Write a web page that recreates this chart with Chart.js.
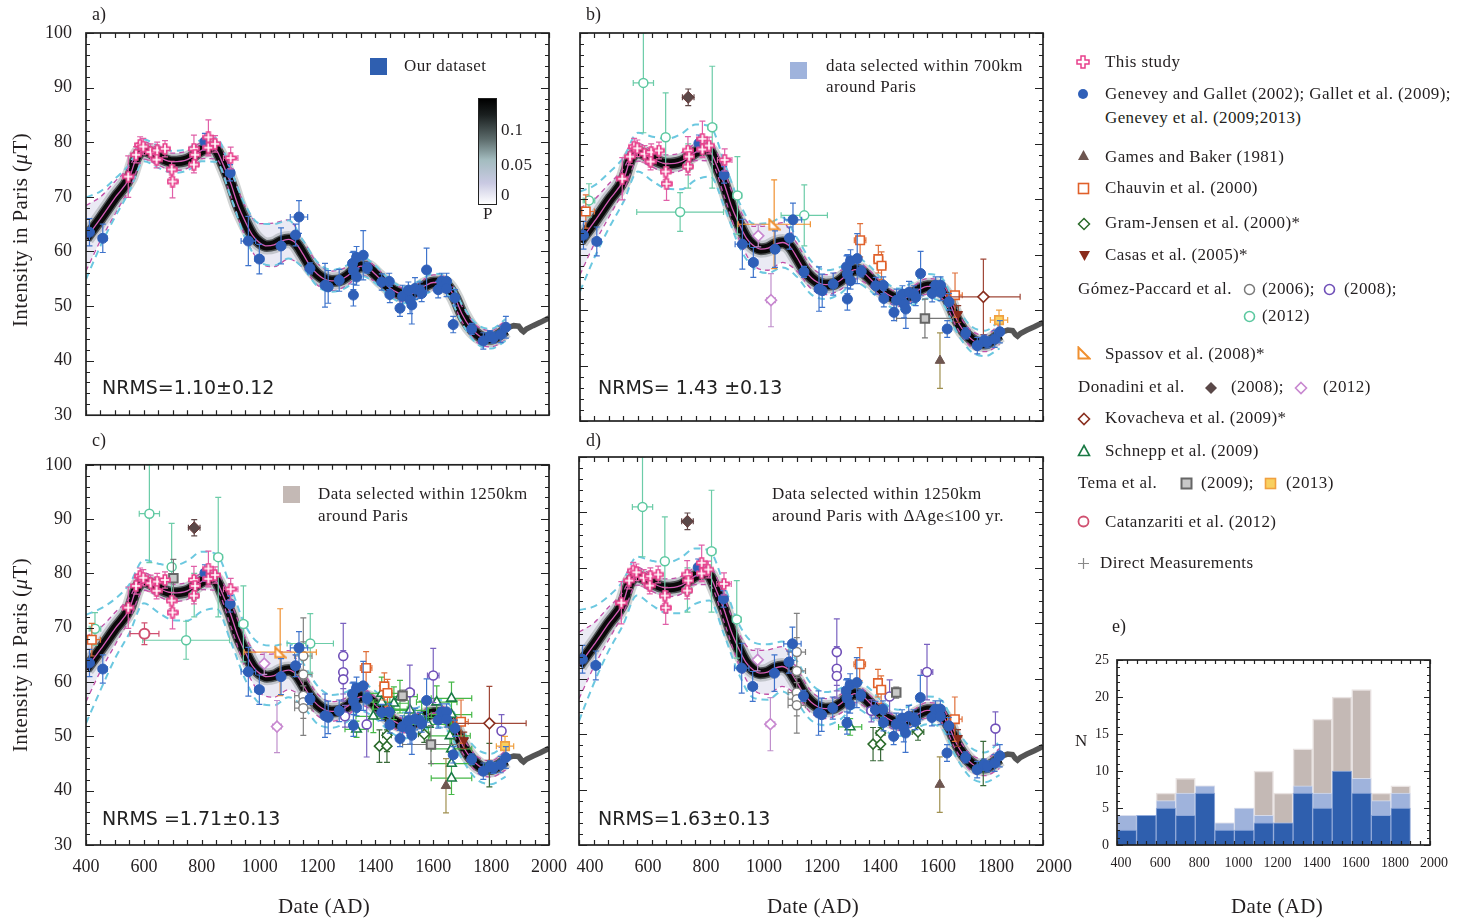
<!DOCTYPE html>
<html><head><meta charset="utf-8">
<script src="https://cdn.jsdelivr.net/npm/chart.js@4.4.1/dist/chart.umd.min.js"></script>
<style>
body{margin:0;width:1471px;height:924px;background:#fff;position:relative;overflow:hidden;font-family:"Liberation Serif",serif;color:#231f20}
canvas{position:absolute}
.t{position:absolute;white-space:nowrap;font-size:17px;line-height:18px;letter-spacing:0.4px}
.pl{position:absolute;font-size:18px;line-height:20px}
.nr{position:absolute;font-family:"DejaVu Sans",sans-serif;font-size:19px;line-height:22px;white-space:nowrap;color:#222}
.yl{position:absolute;font-size:21px;letter-spacing:0.4px;white-space:nowrap;transform:translate(-50%,-50%) rotate(-90deg)}
.xl{position:absolute;font-size:21px;letter-spacing:0.3px;white-space:nowrap;transform:translate(-50%,-50%)}
.sym{position:absolute}
</style></head><body>
<canvas id="ca" width="580" height="440" style="left:0;top:0"></canvas>
<canvas id="cb" width="540" height="440" style="left:540px;top:0"></canvas>
<canvas id="cc" width="580" height="484" style="left:0;top:440px"></canvas>
<canvas id="cd" width="540" height="484" style="left:540px;top:440px"></canvas>
<canvas id="ce" width="420" height="294" style="left:1060px;top:630px"></canvas>

<div class="pl" style="left:92px;top:4px">a)</div>
<div class="pl" style="left:586px;top:4px">b)</div>
<div class="pl" style="left:92px;top:430px">c)</div>
<div class="pl" style="left:586px;top:430px">d)</div>
<div class="pl" style="left:1112px;top:616px">e)</div>

<div class="yl" style="left:20px;top:230px">Intensity in Paris (<i>μ</i>T)</div>
<div class="yl" style="left:20px;top:655px">Intensity in Paris (<i>μ</i>T)</div>
<div class="xl" style="left:324px;top:906px">Date (AD)</div>
<div class="xl" style="left:813px;top:906px">Date (AD)</div>
<div class="xl" style="left:1277px;top:906px">Date (AD)</div>
<div class="t" style="left:1075px;top:732px">N</div>

<!-- in-panel legends -->
<div class="sym" style="left:370px;top:58px;width:17px;height:17px;background:#2f5fb0"></div>
<div class="t" style="left:404px;top:57px">Our dataset</div>
<div class="sym" style="left:790px;top:62px;width:17px;height:17px;background:#9fb3dc"></div>
<div class="t" style="left:826px;top:57px">data selected within 700km</div>
<div class="t" style="left:826px;top:78px">around Paris</div>
<div class="sym" style="left:283px;top:486px;width:17px;height:17px;background:#c4b9b5"></div>
<div class="t" style="left:318px;top:485px">Data selected within 1250km</div>
<div class="t" style="left:318px;top:507px">around Paris</div>
<div class="t" style="left:772px;top:485px">Data selected within 1250km</div>
<div class="t" style="left:772px;top:507px">around Paris with ΔAge≤100 yr.</div>

<!-- colour bar -->
<div class="sym" style="left:478px;top:98px;width:17px;height:105px;border:1.5px solid #222;background:linear-gradient(to bottom,#000 0%,#1a1f1f 15%,#5b6a6a 38%,#a3bcbf 58%,#c9c9e2 80%,#fff 100%)"></div>
<div class="t" style="left:501px;top:121px">0.1</div>
<div class="t" style="left:501px;top:156px">0.05</div>
<div class="t" style="left:501px;top:186px">0</div>
<div class="t" style="left:483px;top:205px">P</div>

<div class="nr" style="left:102px;top:376px">NRMS=1.10±0.12</div>
<div class="nr" style="left:598px;top:376px">NRMS= 1.43 ±0.13</div>
<div class="nr" style="left:102px;top:807px">NRMS =1.71±0.13</div>
<div class="nr" style="left:598px;top:807px">NRMS=1.63±0.13</div>

<!-- right-hand legend -->
<svg class="sym" style="left:1076px;top:55px" width="14" height="14"><path d="M5 1h4v4h4v4h-4v4h-4v-4h-4v-4h4z" fill="#fff" stroke="#e8408c" stroke-width="1.5"/></svg>
<div class="t" style="left:1105px;top:53px">This study</div>
<svg class="sym" style="left:1077px;top:88px" width="12" height="12"><circle cx="6" cy="6" r="5" fill="#2f5fb8"/></svg>
<div class="t" style="left:1105px;top:85px">Genevey and Gallet (2002); Gallet et al. (2009);</div>
<div class="t" style="left:1105px;top:109px">Genevey et al. (2009;2013)</div>
<svg class="sym" style="left:1077px;top:149px" width="13" height="12"><path d="M6.5 1L12 11H1z" fill="#6e5650"/></svg>
<div class="t" style="left:1105px;top:148px">Games and Baker (1981)</div>
<svg class="sym" style="left:1077px;top:182px" width="13" height="13"><rect x="1.5" y="1.5" width="10" height="10" fill="#fff" stroke="#e0602a" stroke-width="1.6"/></svg>
<div class="t" style="left:1105px;top:179px">Chauvin et al. (2000)</div>
<svg class="sym" style="left:1077px;top:217px" width="14" height="14"><path d="M7 1.5L12.5 7L7 12.5L1.5 7z" fill="#fff" stroke="#2a6a2a" stroke-width="1.5"/></svg>
<div class="t" style="left:1105px;top:214px">Gram-Jensen et al. (2000)*</div>
<svg class="sym" style="left:1078px;top:250px" width="13" height="12"><path d="M1 1H12L6.5 11z" fill="#8a2a1a"/></svg>
<div class="t" style="left:1105px;top:246px">Casas et al. (2005)*</div>
<div class="t" style="left:1078px;top:280px">Gómez-Paccard et al.</div>
<svg class="sym" style="left:1243px;top:283px" width="13" height="13"><circle cx="6.5" cy="6.5" r="5" fill="#fff" stroke="#7a7a7a" stroke-width="1.5"/></svg>
<div class="t" style="left:1262px;top:280px">(2006);</div>
<svg class="sym" style="left:1323px;top:283px" width="13" height="13"><circle cx="6.5" cy="6.5" r="5" fill="#fff" stroke="#7050b8" stroke-width="1.6"/></svg>
<div class="t" style="left:1344px;top:280px">(2008);</div>
<svg class="sym" style="left:1243px;top:310px" width="13" height="13"><circle cx="6.5" cy="6.5" r="5" fill="#fff" stroke="#5cc8a0" stroke-width="1.6"/></svg>
<div class="t" style="left:1262px;top:307px">(2012)</div>
<svg class="sym" style="left:1077px;top:346px" width="14" height="14"><path d="M1.5 1.5V12.5H12.5z" fill="#fff" stroke="#f09030" stroke-width="2"/></svg>
<div class="t" style="left:1105px;top:345px">Spassov et al. (2008)*</div>
<div class="t" style="left:1078px;top:378px">Donadini et al.</div>
<svg class="sym" style="left:1204px;top:381px" width="14" height="14"><path d="M7 1L13 7L7 13L1 7z" fill="#5a4848"/></svg>
<div class="t" style="left:1231px;top:378px">(2008);</div>
<svg class="sym" style="left:1294px;top:381px" width="14" height="14"><path d="M7 1.5L12.5 7L7 12.5L1.5 7z" fill="#fff" stroke="#c888d0" stroke-width="1.6"/></svg>
<div class="t" style="left:1323px;top:378px">(2012)</div>
<svg class="sym" style="left:1077px;top:412px" width="14" height="14"><path d="M7 1.5L12.5 7L7 12.5L1.5 7z" fill="#fff" stroke="#8a3020" stroke-width="1.6"/></svg>
<div class="t" style="left:1105px;top:409px">Kovacheva et al. (2009)*</div>
<svg class="sym" style="left:1077px;top:444px" width="14" height="13"><path d="M7 1.5L12.5 11.5H1.5z" fill="#fff" stroke="#1a7a45" stroke-width="1.6"/></svg>
<div class="t" style="left:1105px;top:442px">Schnepp et al. (2009)</div>
<div class="t" style="left:1078px;top:474px">Tema et al.</div>
<svg class="sym" style="left:1180px;top:477px" width="13" height="13"><rect x="1.5" y="1.5" width="10" height="10" fill="#c8c8c8" stroke="#666" stroke-width="2"/></svg>
<div class="t" style="left:1201px;top:474px">(2009);</div>
<svg class="sym" style="left:1264px;top:477px" width="13" height="13"><rect x="1.5" y="1.5" width="10" height="10" fill="#f8d060" stroke="#f0a040" stroke-width="1.6"/></svg>
<div class="t" style="left:1286px;top:474px">(2013)</div>
<svg class="sym" style="left:1077px;top:515px" width="13" height="13"><circle cx="6.5" cy="6.5" r="5" fill="#fff" stroke="#d05070" stroke-width="1.8"/></svg>
<div class="t" style="left:1105px;top:513px">Catanzariti et al. (2012)</div>
<svg class="sym" style="left:1077px;top:557px" width="13" height="13"><path d="M6.5 1V12M1 6.5H12" stroke="#888" stroke-width="1.2"/></svg>
<div class="t" style="left:1100px;top:554px">Direct Measurements</div>

<script>
// ---------------- DATA ----------------
const xTickLabels = [400,600,800,1000,1200,1400,1600,1800,2000];
const yTickLabels = [30,40,50,60,70,80,90,100];
const histYTickLabels = [0,5,10,15,20,25];

// model curve (centre of density band)
const curveYear = [400,450,500,550,575,600,650,700,750,800,830,850,875,900,925,950,975,1000,1025,1050,1075,1100,1125,1150,1175,1200,1225,1250,1275,1300,1325,1350,1375,1400,1425,1450,1475,1500,1525,1550,1575,1600,1625,1650,1675,1700,1725,1750,1775,1800,1825,1850];
const curveInt  = [62.4,66.0,69.8,73.5,77.3,78.5,77.3,76.4,76.8,78.5,79.0,78.6,75.8,72.5,68.5,65.5,63.0,61.6,61.0,61.2,61.9,62.2,61.5,59.5,57.3,55.8,54.9,54.6,54.7,55.4,56.5,57.3,57.0,55.8,54.5,53.3,52.5,52.0,52.2,53.0,53.8,54.3,54.3,53.6,51.5,48.5,46.3,44.9,44.1,44.0,44.6,45.6];

// envelope half-widths (read at 50-yr nodes)
const envYear = [400,450,500,550,600,650,700,750,800,850,900,950,1000,1050,1100,1150,1200,1250,1300,1350,1400,1450,1500,1550,1600,1650,1700,1750,1800,1850];
const magHW   = [6,4,3,2,1.6,1.5,1.6,1.6,1.5,1.7,2.2,2.8,3.5,4,3.6,2.5,2,1.8,1.7,1.6,1.4,1.3,1.3,1.3,1.4,1.4,1.4,1.5,1.5,1.8];
const cyanHW_a = [7.5,5,3.5,2.5,2,2,2,2,2,2.2,2.5,3,3.5,3.8,3.5,2.5,2.2,2,2,1.8,1.6,1.5,1.5,1.5,1.6,1.6,1.7,1.8,1.8,2];
const cyanHW_b = [9,6.5,5,4,3.5,4,4.5,5,5,4.5,4,4,4,4.5,4.5,3.5,3,2.6,2.4,2.3,2.2,2,1.9,2,2.2,2.2,2.3,2.3,2.3,2.5];
const cyanHW_c = [10,7.5,5.5,4.5,4,4.5,5,5.5,5.5,5,5,5,5.5,5.5,5,4,3.5,3,2.8,2.6,2.5,2.4,2.4,2.4,2.5,2.6,2.7,2.8,2.8,3];
const cyanHW_d = [10,7,5,4,3.5,4,4.5,5,5,4.5,4.5,4.5,5,5,4.5,3.8,3.3,3,2.8,2.6,2.5,2.4,2.4,2.4,2.5,2.5,2.6,2.7,2.7,3];

// direct measurements
const dmYear = [1860,1878,1895,1905,1912,1922,1945,1970,2000];
const dmInt  = [46.1,46.4,46.3,45.6,45.3,45.8,46.4,47.0,47.8];

// This study
const tsYear = [546,573,587,598,623,646,644,673,696,699,773,777,773,823,823,846,900];
const tsInt  = [73.7,77.7,79.5,79.2,78.2,78.5,76.8,78.8,75.0,72.8,78.8,77.7,75.9,80.9,79.0,79.7,77.1];
const tsEx   = [20,0,10,0,0,0,0,0,15,15,0,0,15,0,15,0,25];
const tsEy   = [3.8,1.5,1.5,1.5,1.5,1.5,1.5,1.5,1.5,3,2.5,1.5,1.5,3.2,1.5,1.5,2];

// Genevey and Gallet; Gallet et al.; Genevey et al. (our dataset)
const genYear = [412,458,811,898,961,999,1074,1124,1136,1174,1226,1237,1275,1324,1321,1335,1358,1324,1335,1372,1422,1448,1450,1485,1494,1520,1526,1514,1537,1554,1560,1577,1617,1629,1646,1646,1675,1669,1733,1773,1796,1808,1833,1851];
const genInt  = [63.5,62.4,80.1,74.4,61.9,58.6,61.0,63.0,66.3,56.9,53.8,53.5,54.7,52.0,57.8,58.9,59.3,56.5,55.3,57.0,54.4,54.5,52.1,49.6,51.8,51.1,50.2,52.9,53.2,52.9,52.3,56.6,53.0,54.5,54.5,53.2,51.5,46.6,45.8,43.6,44.5,44.2,44.8,46.1];
const genEx   = [0,15,0,15,25,15,0,0,30,0,10,0,0,0,0,0,0,0,0,10,0,0,0,0,10,0,0,0,0,0,0,0,0,0,0,0,0,0,0,15,0,0,0,0];
const genEy   = [2.5,2.6,1.5,1.5,4.5,2.7,3.3,2,3,1,4,3,2,2,2,2,4.5,3.5,1.5,1,1.5,1.5,1.5,1.5,2,2.5,3.5,1.5,2,1.5,1.5,4,1.5,1.5,1.5,1.5,1.5,1.5,1,1.5,1,1,1.5,2];

// Gómez-Paccard et al. (2012)
const gp12Year = [619,696,857,431,746,944,1175,774];
const gp12Int  = [91.0,81.2,83.0,69.8,67.7,70.7,67.1,76.0];
const gp12Ex   = [35,0,15,20,150,15,80,0];
const gp12Ey   = [9,8,11,3,3.5,7,5.5,4];
const gp12In   = ['bcd','bcd','bcd','bc','bc','bcd','bc','bcd'];
// Gómez-Paccard et al. (2006)
const gp06Year = [1151,1151,1151,1151,1151];
const gp06Int  = [64.8,61.4,57.5,56.3,55.2];
const gp06Ex   = [30,30,30,30,30];
const gp06Ey   = [7,6,3,3,5];
const gp06In   = ['cd','cd','cd','cd','cd'];
// Gómez-Paccard et al. (2008)
const gp08Year = [1289,1289,1289,1519,1600,1836,1370,1295,1471,1408];
const gp08Int  = [64.8,61.8,60.5,58.1,61.2,51.0,52.2,53.7,56.8,54.2];
const gp08Ex   = [0,0,0,15,20,0,0,0,0,15];
const gp08Ey   = [6,4,4,5,5,3,6,2,3,2];
const gp08In   = ['cd','cd','cd','c','cd','cd','c','c','d','d'];
// Donadini et al. (2008), (2012)
const dn08Year = [774]; const dn08Int = [88.4]; const dn08Ex = [20]; const dn08Ey = [1.5]; const dn08In = ['bcd'];
const dn12Year = [1016,1060]; const dn12Int = [63.4,51.8]; const dn12Ex = [0,15]; const dn12Ey = [2,4.8]; const dn12In = ['bcd','bcd'];
// Chauvin et al. (2000)
const chYear = [420,1368,1431,1442,1696];
const chInt  = [67.8,62.6,59.2,58.0,52.7];
const chEx   = [30,20,15,15,25];
const chEy   = [3,3,2.5,2.5,4];
const chIn   = ['bc','bcd','bcd','bcd','bcd'];
// Spassov et al. (2008)
const spYear = [1071]; const spInt = [65.5]; const spEx = [125]; const spEy = [8]; const spIn = ['bc'];
// Tema et al. (2009), (2013)
const t09Year = [1592,702,1494]; const t09Int = [48.5,79.1,57.5]; const t09Ex = [98,0,10]; const t09Ey = [3.5,3.5,1]; const t09In = ['bc','c','cd'];
const t13Year = [1848]; const t13Int = [48.2]; const t13Ex = [30]; const t13Ey = [1.8]; const t13In = ['bc'];
// Games and Baker (1981)
const gbYear = [1644]; const gbInt = [40.9]; const gbEx = [0]; const gbEy = [5]; const gbIn = ['bcd'];
// Casas et al. (2005)
const caYear = [1707]; const caInt = [49.3]; const caEx = [0]; const caEy = [1.5]; const caIn = ['bcd'];
// Kovacheva et al. (2009)
const kvYear = [1794]; const kvInt = [52.4]; const kvEx = [127]; const kvEy = [6.8]; const kvIn = ['bc'];
// Schnepp et al. (2009)
const snYear = [1422,1422,1485,1464,1393,1612,1663,1663,1658,1663,1663,1663,1583,1335,1450,1520,1560];
const snInt  = [57.9,56.3,57.3,56.1,53.7,56.3,57.0,54.0,50.1,47.7,45.0,42.3,52.2,51.3,55.0,54.8,53.5];
const snEx   = [60,50,60,50,60,70,70,70,70,70,70,70,60,40,60,60,60];
const snEy   = [3,3,3,3,3,3,3,3,3,3,3,3,3,1.5,3,3,3];
const snIn   = ['c','c','c','c','c','c','c','c','c','c','c','c','c','cd','c','c','c'];
// Gram-Jensen et al. (2000)
const gjYear = [1414,1440,1440,1569,1794]; const gjInt = [48.2,48.2,50.2,50.4,44.7];
const gjEx = [0,0,15,20,10]; const gjEy = [3,3,3,1.5,4]; const gjIn = ['cd','cd','cd','cd','cd'];
// Catanzariti et al. (2012)
const ctYear = [602]; const ctInt = [68.9]; const ctEx = [50]; const ctEy = [2]; const ctIn = ['c'];

// histogram (panel e)
const histBinCenter = [450,550,650,750,850,950,1050,1150,1250,1350,1450,1550,1650,1750,1850];
const histOurs = [2,4,5,4,7,2,2,3,3,7,5,10,7,4,5];
const hist700  = [4,4,6,7,8,3,5,4,3,8,7,10,9,6,7];
const hist1250 = [4,4,7,9,8,3,5,10,7,13,17,20,21,7,8];

// ---------------- RENDERING ----------------
Chart.defaults.font.family = '"Liberation Serif", serif';
Chart.defaults.color = '#231f20';

function mkPlus(){
  const c=document.createElement('canvas'); c.width=c.height=12; const g=c.getContext('2d');
  g.beginPath(); g.moveTo(4.3,1);g.lineTo(7.7,1);g.lineTo(7.7,4.3);g.lineTo(11,4.3);g.lineTo(11,7.7);g.lineTo(7.7,7.7);g.lineTo(7.7,11);g.lineTo(4.3,11);g.lineTo(4.3,7.7);g.lineTo(1,7.7);g.lineTo(1,4.3);g.lineTo(4.3,4.3);g.closePath();
  g.fillStyle='#fff';g.fill();g.strokeStyle='#e8408c';g.lineWidth=1.7;g.stroke(); return c;
}
function mkRightTri(){
  const c=document.createElement('canvas'); c.width=c.height=13; const g=c.getContext('2d');
  g.beginPath(); g.moveTo(1.5,1.5); g.lineTo(1.5,11.5); g.lineTo(11.5,11.5); g.closePath();
  g.fillStyle='#fff';g.fill();g.strokeStyle='#f09030';g.lineWidth=2;g.stroke(); return c;
}
const plusImg = mkPlus(), rtriImg = mkRightTri();

const STY = {
  ts:{ps:plusImg, r:6, fill:'#fff', stroke:'#e8408c', bw:1, err:'#e060a8'},
  gen:{ps:'circle', r:5, fill:'#2f5fb8', stroke:'#2f5fb8', bw:1, err:'#3f74cc'},
  gp12:{ps:'circle', r:4.5, fill:'#fff', stroke:'#5cc8a0', bw:1.5, err:'#6ccca8'},
  gp06:{ps:'circle', r:4.5, fill:'#fff', stroke:'#808080', bw:1.5, err:'#808080'},
  gp08:{ps:'circle', r:4.5, fill:'#fff', stroke:'#7050b8', bw:1.6, err:'#7a62c0'},
  dn08:{ps:'rectRot', r:6, fill:'#5a4848', stroke:'#6a3838', bw:1, err:'#604848'},
  dn12:{ps:'rectRot', r:5.5, fill:'#fff', stroke:'#c888d0', bw:1.6, err:'#c090cc'},
  ch:{ps:'rect', r:6, fill:'#fff', stroke:'#e0602a', bw:1.6, err:'#e0703a'},
  sp:{ps:rtriImg, r:6, fill:'#fff', stroke:'#f09030', bw:1, err:'#f09030'},
  t09:{ps:'rect', r:6, fill:'#c8c8c8', stroke:'#666', bw:2, err:'#777'},
  t13:{ps:'rect', r:6, fill:'#f8d060', stroke:'#f0a040', bw:1.6, err:'#f0a040'},
  gb:{ps:'triangle', r:5.5, fill:'#6e5650', stroke:'#6e5650', bw:1, err:'#a09050'},
  ca:{ps:'triangle', rot:180, r:5, fill:'#8a2a1a', stroke:'#8a2a1a', bw:1, err:'#8a3a2a'},
  kv:{ps:'rectRot', r:5.5, fill:'#fff', stroke:'#8a3020', bw:1.6, err:'#a04838'},
  sn:{ps:'triangle', r:5.5, fill:'#fff', stroke:'#1a7a45', bw:1.6, err:'#46b848'},
  gj:{ps:'rectRot', r:5, fill:'#fff', stroke:'#2a6a2a', bw:1.5, err:'#3a6a3a'},
  ct:{ps:'circle', r:5, fill:'#fff', stroke:'#d05070', bw:2, err:'#d05070'}
};

function scatterDs(years, ints, ex, ey, sty, order, inArr, panel){
  const idx = years.map((_,i)=>i).filter(i=>!inArr || inArr[i].indexOf(panel)>=0);
  return {type:'scatter', order,
    data: idx.map(i=>({x:years[i], y:ints[i]})),
    errX: idx.map(i=>ex[i]), errY: idx.map(i=>ey[i]), errColor: sty.err,
    pointStyle: sty.ps, pointRadius: sty.r, pointBackgroundColor: sty.fill,
    pointBorderColor: sty.stroke, pointBorderWidth: sty.bw, pointRotation: sty.rot||0};
}
function lineDs(pts, color, width, dash, order, extra){
  return Object.assign({type:'line', order, data:pts, borderColor:color, borderWidth:width,
    borderDash:dash||[], pointRadius:0, fill:false, cubicInterpolationMode:'monotone', showLine:true}, extra||{});
}
const curvePts = curveYear.map((x,i)=>({x, y:curveInt[i]}));
function envPts(hw, sign){
  return envYear.map((x,i)=>({x, y: curveInt[curveYear.indexOf(x)] + sign*hw[i]}));
}

const framePlugin = {
  id:'frame',
  afterDatasetsDraw(chart, args, o){
    const {ctx, chartArea:a} = chart; const x=chart.scales.x, y=chart.scales.y;
    ctx.save(); ctx.strokeStyle='#222'; ctx.lineWidth=1.2; ctx.beginPath();
    for(let v=x.min; v<=x.max+1e-6; v+=o.xStep){
      const px=Math.round(x.getPixelForValue(v))+0.5;
      ctx.moveTo(px,a.bottom); ctx.lineTo(px,a.bottom-o.xLen);
      ctx.moveTo(px,a.top); ctx.lineTo(px,a.top+o.xLen);
    }
    for(let v=y.min; v<=y.max+1e-6; v+=o.yStep){
      const py=Math.round(y.getPixelForValue(v))+0.5;
      const major = Math.abs(v/o.yMajor - Math.round(v/o.yMajor))<1e-6;
      const L = major? o.yMaj : o.yMin;
      ctx.moveTo(a.left,py); ctx.lineTo(a.left+L,py);
      ctx.moveTo(a.right,py); ctx.lineTo(a.right-L,py);
    }
    ctx.stroke();
    ctx.lineWidth=1.7; ctx.strokeStyle='#222';
    ctx.strokeRect(a.left, a.top, a.right-a.left, a.bottom-a.top);
    ctx.restore();
  }
};
const errPlugin = {
  id:'errbars',
  beforeDatasetDraw(chart, args){
    const ds = chart.data.datasets[args.index];
    if(!ds.errY) return;
    const {ctx, chartArea:a} = chart; const x=chart.scales.x, y=chart.scales.y;
    ctx.save(); ctx.beginPath(); ctx.rect(a.left,a.top,a.right-a.left,a.bottom-a.top); ctx.clip();
    ctx.strokeStyle=ds.errColor; ctx.lineWidth=1.2; ctx.beginPath();
    ds.data.forEach((p,i)=>{
      const cx=x.getPixelForValue(p.x), cy=y.getPixelForValue(p.y);
      const ey=ds.errY[i], ex=ds.errX[i];
      if(ey){ const y1=y.getPixelForValue(p.y+ey), y2=y.getPixelForValue(p.y-ey);
        ctx.moveTo(cx,y1);ctx.lineTo(cx,y2);
        ctx.moveTo(cx-3,y1);ctx.lineTo(cx+3,y1);ctx.moveTo(cx-3,y2);ctx.lineTo(cx+3,y2); }
      if(ex){ const x1=x.getPixelForValue(p.x-ex), x2=x.getPixelForValue(p.x+ex);
        ctx.moveTo(x1,cy);ctx.lineTo(x2,cy);
        ctx.moveTo(x1,cy-3);ctx.lineTo(x1,cy+3);ctx.moveTo(x2,cy-3);ctx.lineTo(x2,cy+3); }
    });
    ctx.stroke(); ctx.restore();
  }
};

function buildPanel(id, panel, cyanHW, cfg){
  const ds = [];
  // band
  ds.push(lineDs(envPts(magHW,-1), 'rgba(0,0,0,0)', 0, null, 200));
  ds.push(lineDs(envPts(magHW,1), 'rgba(0,0,0,0)', 0, null, 199, {fill:'-1', backgroundColor:'rgba(200,200,225,0.38)'}));
  ds.push(lineDs(curvePts, 'rgba(120,130,130,0.35)', 17, null, 198));
  ds.push(lineDs(curvePts, 'rgba(40,45,45,0.75)', 12, null, 197));
  ds.push(lineDs(curvePts, '#0a0a0a', 9, null, 196));
  ds.push(lineDs(curvePts, '#d45cb6', 1.3, null, 195));
  ds.push(lineDs(envPts(magHW,1), '#c050a8', 1.3, [5,4], 194));
  ds.push(lineDs(envPts(magHW,-1), '#c050a8', 1.3, [5,4], 193));
  ds.push(lineDs(envPts(cyanHW,1), '#6cc8e0', 2, [7,5], 192));
  ds.push(lineDs(envPts(cyanHW,-1), '#6cc8e0', 2, [7,5], 191));
  ds.push(lineDs(dmYear.map((x,i)=>({x,y:dmInt[i]})), '#555', 5.5, null, 190, {cubicInterpolationMode:'default', tension:0}));
  if(panel!=='a'){
    ds.push(scatterDs(snYear,snInt,snEx,snEy,STY.sn,40,snIn,panel));
    ds.push(scatterDs(gjYear,gjInt,gjEx,gjEy,STY.gj,39,gjIn,panel));
    ds.push(scatterDs(gp06Year,gp06Int,gp06Ex,gp06Ey,STY.gp06,38,gp06In,panel));
    ds.push(scatterDs(gp08Year,gp08Int,gp08Ex,gp08Ey,STY.gp08,37,gp08In,panel));
    ds.push(scatterDs(gp12Year,gp12Int,gp12Ex,gp12Ey,STY.gp12,36,gp12In,panel));
    ds.push(scatterDs(ctYear,ctInt,ctEx,ctEy,STY.ct,35,ctIn,panel));
    ds.push(scatterDs(chYear,chInt,chEx,chEy,STY.ch,34,chIn,panel));
    ds.push(scatterDs(spYear,spInt,spEx,spEy,STY.sp,33,spIn,panel));
    ds.push(scatterDs(dn12Year,dn12Int,dn12Ex,dn12Ey,STY.dn12,32,dn12In,panel));
    ds.push(scatterDs(dn08Year,dn08Int,dn08Ex,dn08Ey,STY.dn08,31,dn08In,panel));
    ds.push(scatterDs(t09Year,t09Int,t09Ex,t09Ey,STY.t09,30,t09In,panel));
    ds.push(scatterDs(t13Year,t13Int,t13Ex,t13Ey,STY.t13,29,t13In,panel));
    ds.push(scatterDs(gbYear,gbInt,gbEx,gbEy,STY.gb,28,gbIn,panel));
    ds.push(scatterDs(caYear,caInt,caEx,caEy,STY.ca,27,caIn,panel));
    ds.push(scatterDs(kvYear,kvInt,kvEx,kvEy,STY.kv,26,kvIn,panel));
  }
  ds.push(scatterDs(genYear,genInt,genEx,genEy,STY.gen,11,null,panel));
  ds.push(scatterDs(tsYear,tsInt,tsEx,tsEy,STY.ts,10,null,panel));

  new Chart(document.getElementById(id), {
    type:'scatter', data:{datasets:ds}, plugins:[framePlugin, errPlugin],
    options:{
      responsive:false, animation:false, events:[],
      layout:{padding:cfg.pad},
      scales:{
        x:{type:'linear', min:400, max:2000,
          afterBuildTicks:s=>{s.ticks = xTickLabels.map(v=>({value:v}));},
          ticks:{display:cfg.showX, font:{size:18}, color:'#231f20', padding:11, labelOffset:cfg.xOff||0, maxRotation:0, autoSkip:false, callback:v=>String(v)},
          grid:{display:false, drawTicks:false}, border:{display:false},
          afterFit:s=>{s.height = cfg.showX?40:0;}},
        y:{type:'linear', min:30, max:100,
          afterBuildTicks:s=>{s.ticks = yTickLabels.map(v=>({value:v}));},
          ticks:{display:cfg.showY, font:{size:18}, color:'#231f20', padding:14, callback:v=>String(v)},
          grid:{display:false, drawTicks:false}, border:{display:false},
          afterFit:s=>{s.width = cfg.yW;}}
      },
      plugins:{legend:{display:false}, tooltip:{enabled:false},
        frame:{xStep:50, xLen:5, yStep:2, yMajor:10, yMaj:8, yMin:4}}
    }
  });
}

buildPanel('ca','a',cyanHW_a,{pad:{top:33,right:31,bottom:19,left:0}, showX:false, showY:true, yW:86});
buildPanel('cb','b',cyanHW_b,{pad:{top:33,right:37,bottom:19,left:0}, showX:false, showY:false, yW:40});
buildPanel('cc','c',cyanHW_c,{pad:{top:17,right:31,bottom:39,left:0}, showX:true, showY:true, yW:86});
buildPanel('cd','d',cyanHW_d,{pad:{top:17,right:37,bottom:39,left:0}, showX:true, showY:false, yW:39, xOff:11});

// histogram
new Chart(document.getElementById('ce'), {
  type:'bar',
  data:{datasets:[
    {data:histBinCenter.map((x,i)=>({x,y:histOurs[i]})), backgroundColor:'#2f5fae', borderColor:'rgba(140,165,215,0.9)', borderWidth:1, grouped:false, order:1, barPercentage:1, categoryPercentage:1},
    {data:histBinCenter.map((x,i)=>({x,y:hist700[i]})), backgroundColor:'#9fb3dc', borderColor:'rgba(215,222,240,0.9)', borderWidth:1, grouped:false, order:2, barPercentage:1, categoryPercentage:1},
    {data:histBinCenter.map((x,i)=>({x,y:hist1250[i]})), backgroundColor:'#c4b9b5', borderColor:'rgba(232,226,224,0.95)', borderWidth:1.5, grouped:false, order:3, barPercentage:1, categoryPercentage:1}
  ]},
  plugins:[framePlugin],
  options:{
    responsive:false, animation:false, events:[],
    layout:{padding:{top:30,right:50,bottom:49,left:0}},
    scales:{
      x:{type:'linear', min:400, max:2000, offset:false,
        afterBuildTicks:s=>{s.ticks = xTickLabels.map(v=>({value:v}));},
        ticks:{font:{size:14}, color:'#231f20', padding:10, labelOffset:4, maxRotation:0, autoSkip:false, callback:v=>String(v)},
        grid:{display:false, drawTicks:false}, border:{display:false},
        afterFit:s=>{s.height=30;}},
      y:{type:'linear', min:0, max:25,
        afterBuildTicks:s=>{s.ticks = histYTickLabels.map(v=>({value:v}));},
        ticks:{font:{size:14}, color:'#231f20', padding:8, callback:v=>String(v)},
        grid:{display:false, drawTicks:false}, border:{display:false},
        afterFit:s=>{s.width=57;}}
    },
    plugins:{legend:{display:false}, tooltip:{enabled:false},
      frame:{xStep:50, xLen:4, yStep:1, yMajor:5, yMaj:6, yMin:3}}
  }
});
</script>
</body></html>
